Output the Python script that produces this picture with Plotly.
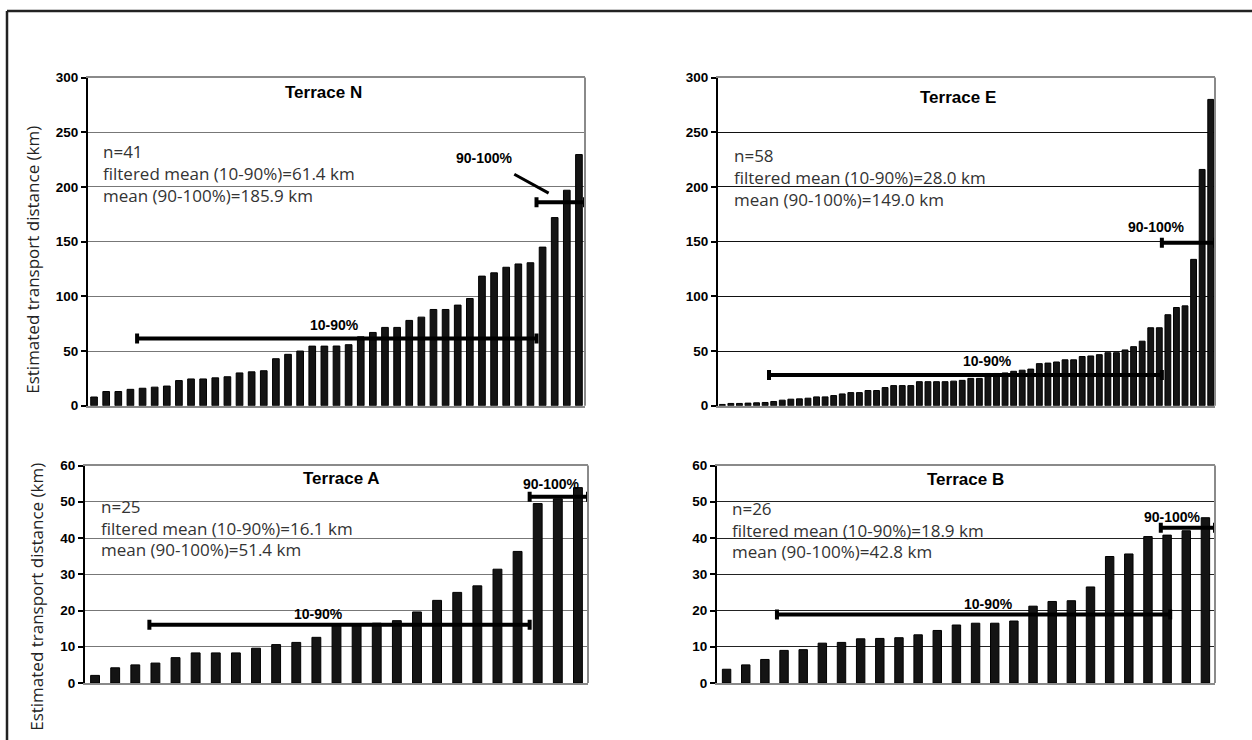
import plotly.graph_objects as go

# ---------------------------------------------------------------
# Estimated transport distances (km), sorted ascending per terrace
# ---------------------------------------------------------------
terrace_names = ["Terrace N", "Terrace E", "Terrace A", "Terrace B"]

dist_N = [8, 13, 13, 15, 16, 17, 18, 23, 24.5, 24.5, 25.5, 26.5, 30, 31, 32,
          43, 47, 50, 54.5, 54.5, 54.6, 55.8, 63, 67, 71.6, 71.6, 78, 81, 88,
          88, 92, 98, 118.5, 121.5, 126.6, 129.6, 130.7, 145, 172, 197, 229.6]

dist_E = [1.2, 2.1, 2.1, 2.4, 2.7, 3.0, 3.9, 5.1, 6.0, 6.3, 6.9, 8.1, 8.1, 9.3,
          10.8, 12.0, 12.0, 13.9, 13.9, 16.6, 18.4, 18.4, 18.4, 22, 22, 22, 22,
          22.5, 23.2, 25, 25, 29.5, 29.5, 30, 31.5, 32.5, 33.5, 38.5, 39, 40,
          42, 42, 45, 45.5, 46.7, 48.5, 48.5, 51, 54, 59, 71.3, 71.3, 83.2,
          89.8, 91.3, 133.8, 216, 280]

dist_A = [2.1, 4.2, 5.0, 5.5, 7.0, 8.3, 8.3, 8.3, 9.6, 10.6, 11.2, 12.6, 16.3,
          16.3, 16.5, 17.2, 19.6, 22.8, 25.0, 26.8, 31.4, 36.3, 49.5, 50.8, 53.9]

dist_B = [3.8, 5.0, 6.5, 9.0, 9.2, 11.0, 11.2, 12.2, 12.3, 12.5, 13.3, 14.5,
          16.0, 16.5, 16.5, 17.1, 21.2, 22.5, 22.7, 26.5, 34.9, 35.6, 40.4,
          40.8, 42.0, 45.6]

# summary statistics printed on each panel (km)
filtered_mean = [61.4, 28.0, 16.1, 18.9]     # 10-90 % of the sample
top_mean = [185.9, 149.0, 51.4, 42.8]        # 90-100 % of the sample

# extent of each percentile class along the ranked axis (rank units)
span_10_90 = [(4.55, 37.5), (6.45, 52.3), (3.7, 22.6), (3.63, 24.16)]
span_90_100 = [(37.5, 41.5), (52.3, 58.5), (22.6, 25.5), (23.67, 26.5)]

y_max = [300, 300, 60, 60]
y_step = [50, 50, 10, 10]

datasets = [dist_N, dist_E, dist_A, dist_B]

# ---------------------------------------------------------------
# page geometry (pixels)
# ---------------------------------------------------------------
W, H = 1252, 740


def fx(p):
    return p / W


def fy(p):
    return 1 - p / H


# plot-area boxes: left, right, top, bottom
boxes = [(88, 585, 72, 407), (718, 1215, 72, 407),
         (85, 588, 468, 690), (717, 1215, 468, 690)]
bar_width = [0.55, 0.68, 0.44, 0.44]
grid_color = ["#777777", "#111111", "#777777", "#222222"]

# label placement: stats text origin, title centre, class label positions
stats_origin = [(101, 148), (732, 152), (99, 510), (730, 512)]
title_pos = [(323, 87), (958, 92), (341, 481), (965, 482)]
lbl_10_90 = [(20.8, 14), (32.0, 14), (12.1, 11), (14.65, 11)]
lbl_90_100 = [None, (51.7, 16), (23.7, 13), (24.3, 11)]

FONT_TXT = "Open Sans"
FONT_BOLD = "Liberation Sans"

fig = go.Figure()
annotations = []
shapes = []

for i, vals in enumerate(datasets):
    k = "" if i == 0 else str(i + 1)
    xa, ya = "x" + k, "y" + k
    n = len(vals)
    left, right, top, bottom = boxes[i]

    ranks = list(range(1, n + 1))
    fig.add_trace(go.Bar(
        x=ranks, y=vals, xaxis=xa, yaxis=ya, width=bar_width[i],
        marker=dict(color="#141414", line=dict(color="#000000", width=1)),
        showlegend=False, hoverinfo="y"))

    # horizontal class bars with end caps
    for (a, b), m in ((span_10_90[i], filtered_mean[i]),
                      (span_90_100[i], top_mean[i])):
        fig.add_trace(go.Scatter(
            x=[(a + b) / 2], y=[m], xaxis=xa, yaxis=ya, mode="markers",
            marker=dict(size=1, color="rgba(0,0,0,0)"),
            error_x=dict(type="data", array=[(b - a) / 2], color="#000000",
                         thickness=4, width=5),
            cliponaxis=False, showlegend=False, hoverinfo="skip"))

    dom_x = [fx(left), fx(right)]
    dom_y = [fy(bottom), fy(top)]
    fig.layout["xaxis" + k] = dict(
        domain=dom_x, anchor=ya, range=[0.5, n + 0.5],
        showticklabels=False, ticks="", showgrid=False, zeroline=False,
        showline=True, linecolor="#8a8a8a", linewidth=2, mirror=True)
    fig.layout["yaxis" + k] = dict(
        domain=dom_y, anchor=xa, range=[0, y_max[i]], dtick=y_step[i],
        tick0=0, ticks="outside", ticklen=5, tickwidth=1.5,
        tickcolor="#000000", showline=True, linecolor="#000000",
        linewidth=2, showgrid=True, gridcolor=grid_color[i], gridwidth=1,
        zeroline=False,
        tickfont=dict(family=FONT_BOLD, size=13.5, color="#000000",
                      weight="bold"))

    # right border of the plot area
    shapes.append(dict(type="line", xref=xa + " domain", yref=ya + " domain",
                       x0=1, x1=1, y0=0, y1=1,
                       line=dict(color="#8a8a8a", width=2)))

    # panel title
    tx, ty = title_pos[i]
    annotations.append(dict(
        text=terrace_names[i], xref="paper", yref="paper", x=fx(tx), y=fy(ty),
        xanchor="center", yanchor="middle", showarrow=False,
        font=dict(family=FONT_BOLD, size=17, color="#000000", weight="bold")))

    # statistics block
    sx, sy = stats_origin[i]
    lines = [f"n={n}",
             f"filtered mean (10-90%)={filtered_mean[i]:.1f} km",
             f"mean (90-100%)={top_mean[i]:.1f} km"]
    for j, line in enumerate(lines):
        annotations.append(dict(
            text=line, xref="paper", yref="paper", x=fx(sx), y=fy(sy + 22 * j),
            xanchor="left", yanchor="middle", showarrow=False,
            font=dict(family=FONT_TXT, size=17, color="#333333")))

    # class labels
    lx, shift = lbl_10_90[i]
    annotations.append(dict(
        text="10-90%", xref=xa, yref=ya, x=lx, y=filtered_mean[i],
        yshift=shift, xanchor="center", yanchor="middle", showarrow=False,
        font=dict(family=FONT_BOLD, size=14, color="#000000", weight="bold")))
    if lbl_90_100[i] is None:
        # leader line from the label down to the class bar
        annotations.append(dict(
            text="90-100%", xref=xa, yref=ya, x=38.5, y=top_mean[i] + 8.5,
            ax=-64, ay=-35, showarrow=True, arrowhead=0, arrowwidth=3,
            arrowcolor="#000000", standoff=0, startstandoff=14,
            font=dict(family=FONT_BOLD, size=14, color="#000000",
                      weight="bold")))
    else:
        lx, shift = lbl_90_100[i]
        annotations.append(dict(
            text="90-100%", xref=xa, yref=ya, x=lx, y=top_mean[i],
            yshift=shift, xanchor="center", yanchor="middle",
            showarrow=False,
            font=dict(family=FONT_BOLD, size=14, color="#000000",
                      weight="bold")))

# shared y-axis titles for the left column
for cx, cy in ((33, 258), (37, 602)):
    annotations.append(dict(
        text="Estimated transport distance (km)", xref="paper", yref="paper",
        x=fx(cx), y=fy(cy), xanchor="center", yanchor="middle",
        textangle=-90, showarrow=False,
        font=dict(family=FONT_TXT, size=17, color="#222222")))

# outer frame (top and left edges)
shapes.append(dict(type="line", xref="paper", yref="paper",
                   x0=fx(7), x1=1.02, y0=fy(4), y1=fy(4),
                   line=dict(color="#222222", width=2.5)))
shapes.append(dict(type="line", xref="paper", yref="paper",
                   x0=fx(7), x1=fx(7), y0=fy(4), y1=-0.02,
                   line=dict(color="#222222", width=2.5)))

fig.update_layout(
    width=W, height=H, margin=dict(l=0, r=0, t=0, b=0),
    paper_bgcolor="#ffffff", plot_bgcolor="#ffffff",
    annotations=annotations, shapes=shapes, bargap=0.3,
    showlegend=False)

fig.write_html("out.html")
